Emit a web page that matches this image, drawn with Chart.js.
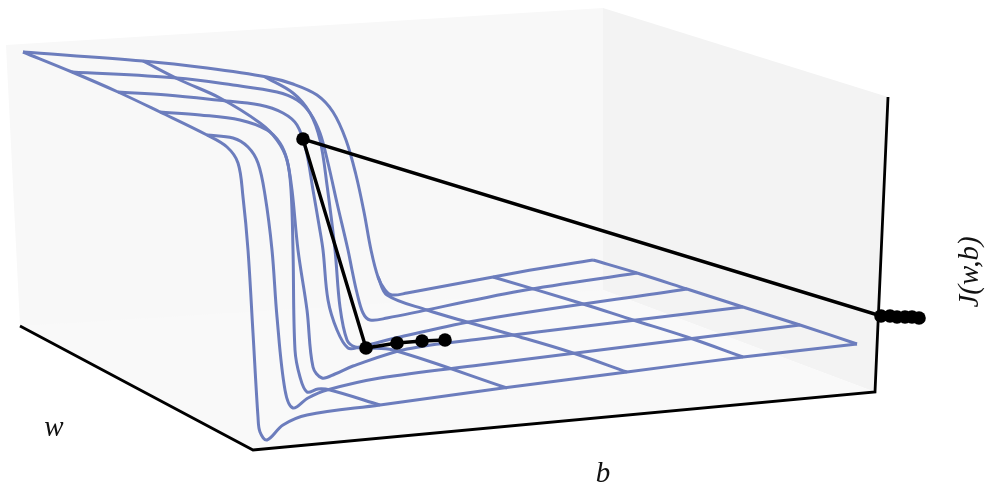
<!DOCTYPE html>
<html>
<head>
<meta charset="utf-8">
<style>html,body{margin:0;padding:0;background:#fff}#wrap{width:995px;height:488px}canvas{display:block}</style>
<script src="https://cdn.jsdelivr.net/npm/chart.js@4"></script>
</head>
<body>
<div id="wrap"><canvas id="c" width="995" height="488"></canvas></div>
<script>
// Projected picture-plane readings of the surface J(w,b)
const wallLeft  = [[6,45],[603,8],[603,290],[253,450],[20,326]];
const wallRight = [[603,8],[888,97],[875,392],[603,290]];
const floorPane = [[20,326],[603,290],[875,392],[253,450]];
const axisEdge  = [[20,326],[253,450],[875,392],[888,97]];

// curves of constant w
const rowA0 = [[23,52],[143,61],[207,68],[267,77],[293,84],[317,95],[333,112],[346,140],[356,175],[364,212],[371,250],[378,277],[385,290],[392,295],[407,293],[520,272],[593,260]];
const rowA1 = [[72,72],[177,78],[233,85],[277,92],[297,100],[310,113],[320,133],[328,163],[337,203],[348,250],[352,270],[357,293],[363,313],[370,320],[387,318],[520,291],[637,273]];
const rowA2 = [[118,92],[167,95],[217,100],[260,105],[283,113],[297,125],[306,150],[313,190],[319,225],[323,250],[328,300],[337,330],[348,348],[360,347],[372,344],[400,337],[480,320],[687,289]];
const rowA3 = [[160,112],[200,115],[240,120],[267,130],[280,143],[287,160],[292,190],[298,250],[307,310],[313,367],[322,378],[335,374],[353,366],[407,349],[480,339],[743,307]];
const rowA4 = [[207,135],[233,138],[248,147],[258,163],[265,195],[272,250],[277,317],[285,390],[293,408],[308,398],[327,390],[380,378],[480,365],[800,325]];
const rowA5 = [[23,52],[72,72],[118,92],[160,112],[207,135],[227,147],[238,163],[243,197],[248,250],[253,333],[258,417],[260,432],[267,440],[283,425],[307,415],[380,405],[503,388],[627,372],[743,357],[857,344]];
// curves of constant b
const colB1 = [[143,61],[180,80],[220,98],[260,123],[277,140],[287,160],[291,190],[293,250],[295,350],[300,377],[307,392],[318,389],[330,390],[380,405]];
const colB2 = [[265,77],[293,93],[310,113],[320,140],[327,185],[335,250],[340,307],[347,340],[355,347],[367,348],[393,350],[507,388]];
const colB3 = [[378,277],[387,295],[427,310],[467,322],[513,335],[570,352],[627,372]];
const colB4 = [[493,277],[580,303],[633,320],[687,337],[743,357]];
const colB5 = [[593,260],[637,273],[687,289],[743,307],[800,325],[857,344]];
// gradient descent path
const descentPath = [[919,318],[912,317],[905,317],[897,317],[890,316],[881,316],[303,139],[366,348],[397,343],[422,341],[445,340]];

const axisLabels = ['w','b','J(w,b)'];
const meshCurves = [rowA0,rowA1,rowA2,rowA3,rowA4,rowA5,colB1,colB2,colB3,colB4,colB5];
const pts = a => a.map(p => ({x:p[0],y:p[1]}));

const datasets = [
  {data:pts(wallLeft), fill:'shape', backgroundColor:'#f8f8f8', borderWidth:0, pointRadius:0, showLine:true, order:9},
  {data:pts(wallRight), fill:'shape', backgroundColor:'#f3f3f3', borderWidth:0, pointRadius:0, showLine:true, order:8},
  {data:pts(floorPane), fill:'shape', backgroundColor:'#f9f9f9', borderWidth:0, pointRadius:0, showLine:true, order:7},
  {data:pts(axisEdge), borderColor:'#000', borderWidth:2.8, pointRadius:0, showLine:true, fill:false, order:6},
  ...meshCurves.map(a => ({data:pts(a), borderColor:'#6c7dbd', borderWidth:3, pointRadius:0, showLine:true, fill:false, tension:0.35, borderJoinStyle:'round', order:5})),
  {data:pts(descentPath), borderColor:'#000', borderWidth:3.4, pointRadius:6.8, pointBackgroundColor:'#000', pointBorderWidth:0, showLine:true, fill:false, order:1}
];

const labelPlugin = {
  id:'labels',
  afterDraw(chart){
    const {ctx,scales:{x,y}} = chart;
    ctx.save();
    ctx.fillStyle = '#111';
    ctx.font = 'italic 29px "Liberation Serif", serif';
    ctx.textBaseline = 'alphabetic';
    ctx.textAlign = 'center';
    ctx.fillText(axisLabels[0], x.getPixelForValue(54), y.getPixelForValue(436));
    ctx.fillText(axisLabels[1], x.getPixelForValue(603), y.getPixelForValue(482));
    ctx.translate(x.getPixelForValue(978), y.getPixelForValue(272));
    ctx.rotate(-Math.PI/2);
    ctx.fillText(axisLabels[2], 0, 0);
    ctx.restore();
  }
};

new Chart(document.getElementById('c'), {
  type:'scatter',
  data:{datasets},
  options:{
    responsive:false, animation:false, devicePixelRatio:1,
    layout:{padding:0, autoPadding:false},
    plugins:{legend:{display:false}, tooltip:{enabled:false}},
    scales:{
      x:{type:'linear', min:0, max:995, display:false},
      y:{type:'linear', min:0, max:488, reverse:true, display:false}
    }
  },
  plugins:[labelPlugin]
});
</script>
</body>
</html>
